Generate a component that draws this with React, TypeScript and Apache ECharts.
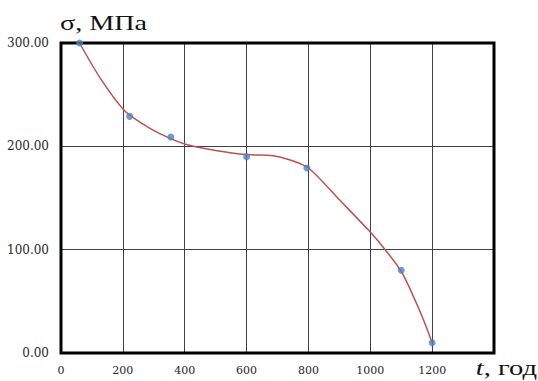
import React, { useEffect, useRef } from "react";
import * as echarts from "echarts";

const pointsT = [60, 222, 355, 600, 795, 1100, 1200];
const pointsSigma = [300, 229, 209, 190, 179, 80, 10];

const curveT = [60, 129, 204, 268, 321, 402, 500, 600, 686, 739, 800, 901, 1000, 1048, 1100, 1136, 1168, 1200];
const curveSigma = [300, 265, 235, 221, 212, 202, 196, 192, 191, 187, 179, 148, 117, 100, 79, 57, 35, 10];

const xTicks = [0, 200, 400, 600, 800, 1000, 1200];
const yTicks = [0, 100, 200, 300];

const yTitle = "σ, МПа";
const xTitleItalic = "t";
const xTitleRest = ", год";

export default function App() {
  const ref = useRef<HTMLDivElement>(null);
  useEffect(() => {
    if (!ref.current) return;
    const chart = echarts.init(ref.current, null, { renderer: "svg" });
    const scatterData = pointsT.map((t, i) => [t, pointsSigma[i]]);
    const curveData = curveT.map((t, i) => [t, curveSigma[i]]);
    chart.setOption({
      animation: false,
      backgroundColor: "#ffffff",
      grid: {
        left: 61,
        right: 44,
        top: 43,
        bottom: 28,
        show: true,
        borderColor: "#000000",
        borderWidth: 3,
        backgroundColor: "transparent",
        z: 3,
      },
      xAxis: {
        type: "value",
        min: 0,
        max: 1400,
        interval: 200,
        axisLine: { show: false },
        axisTick: { show: false },
        splitLine: { show: true, lineStyle: { color: "#404040", width: 1 } },
        axisLabel: {
          margin: 12,
          fontFamily: "DejaVu Serif",
          fontSize: 11,
          color: "#262626",
          formatter: (v: number) => (xTicks.includes(v) ? String(v) : ""),
        },
      },
      yAxis: {
        type: "value",
        min: 0,
        max: 300,
        interval: 100,
        axisLine: { show: false },
        axisTick: { show: false },
        splitLine: { show: true, lineStyle: { color: "#404040", width: 1 } },
        axisLabel: {
          margin: 12,
          fontFamily: "DejaVu Serif",
          fontSize: 12,
          color: "#262626",
          formatter: (v: number) => (yTicks.includes(v) ? v.toFixed(2) : ""),
        },
      },
      graphic: [
        {
          type: "text",
          x: 60,
          y: 22,
          scaleX: 1.28,
          style: {
            text: yTitle,
            x: 0,
            y: 0,
            align: "left",
            verticalAlign: "middle",
            font: '22px "Liberation Serif"',
            fill: "#111111",
          },
        },
        {
          type: "text",
          x: 537,
          y: 368,
          scaleX: 1.3,
          style: {
            text: "{it|" + xTitleItalic + "}{n|" + xTitleRest + "}",
            x: 0,
            y: 0,
            align: "right",
            verticalAlign: "middle",
            fill: "#111111",
            rich: {
              it: { fontFamily: "Liberation Serif", fontSize: 22, fontStyle: "italic", fill: "#111111" },
              n: { fontFamily: "Liberation Serif", fontSize: 22, fill: "#111111" },
            },
          },
        },
      ],
      series: [
        {
          type: "line",
          data: curveData,
          smooth: 0.3,
          showSymbol: false,
          symbol: "none",
          lineStyle: { color: "#C0504D", width: 1.5 },
          z: 2,
        },
        {
          type: "scatter",
          data: scatterData,
          symbolSize: 7,
          itemStyle: { color: "#4F81BD" },
          z: 4,
        },
      ],
    });
    return () => chart.dispose();
  }, []);
  return (
    <div
      ref={ref}
      style={{ position: "fixed", left: 0, top: 0, width: 538, height: 381 }}
    />
  );
}
